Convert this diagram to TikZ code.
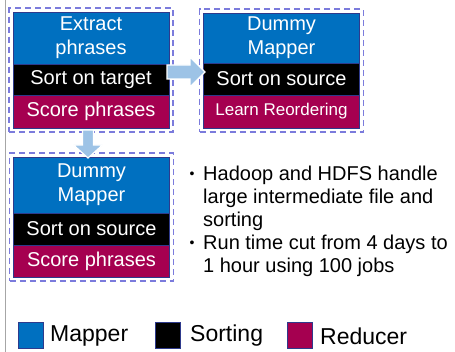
\documentclass[tikz,border=0pt]{standalone}
\usepackage{fontspec}
\setmainfont{Liberation Sans}
\usetikzlibrary{fit}
\definecolor{mapblue}{HTML}{0070C0}
\definecolor{redcol}{HTML}{A50050}
\definecolor{edgenavy}{HTML}{2E3A8C}
\definecolor{dashcol}{HTML}{7B7BDC}
\definecolor{arrowblue}{HTML}{9DC3E6}
\begin{document}
\begin{tikzpicture}[x=1pt,y=-1pt,
  cell/.style={draw=edgenavy,line width=0.8pt,minimum width=156pt,inner sep=0pt,
    text=white,align=center,font=\fontsize{20}{24}\selectfont},
  mapcell/.style={cell,fill=mapblue},
  sortcell/.style={cell,fill=black},
  redcell/.style={cell,fill=redcol},
  group/.style={draw=dashcol,line width=1.4pt,dash pattern=on 6pt off 4pt,inner sep=3.5pt},
  blockarrow/.style={fill=arrowblue,draw=white,line width=1.2pt,line join=miter},
  bullettext/.style={anchor=base west,inner sep=0pt,font=\fontsize{20}{24}\selectfont},
  legbox/.style={draw=edgenavy,line width=1pt,minimum width=25pt,minimum height=26pt,inner sep=0pt},
  legtext/.style={anchor=west,inner sep=0pt,font=\fontsize{23}{27}\selectfont}
]
\useasboundingbox (0,0) rectangle (455,352);
\draw[gray!70,line width=1.5pt] (5.5,0) coordinate (ltop) -- (5.5,352) coordinate (lbot);

% group 1
\node[mapcell,minimum height=52pt] (m1) at (91,38) {Extract\\phrases};
\node[sortcell,minimum height=31pt] (s1) at (91,79.5) {Sort on target};
\node[redcell,minimum height=33pt] (r1) at (91,111.5) {Score phrases};
\node[group,fit=(m1)(r1)] (g1) {};

% group 2
\node[mapcell,minimum height=50pt] (m2) at (281.5,38) {Dummy\\Mapper};
\node[sortcell,minimum height=32pt] (s2) at (281.5,79) {Sort on source};
\node[redcell,minimum height=33pt,font=\fontsize{17}{20}\selectfont] (r2) at (281.5,111.5) {Learn Reordering};
\node[group,fit=(m2)(r2)] (g2) {};

% group 3
\node[mapcell,minimum height=56pt] (m3) at (91.5,185) {Dummy\\Mapper};
\node[sortcell,minimum height=32pt] (s3) at (91.5,229) {Sort on source};
\node[redcell,minimum height=32pt] (r3) at (91.5,261) {Score phrases};
\node[group,fit=(m3)(r3)] (g3) {};

% block arrows
\coordinate (a1) at (167,72);
\draw[blockarrow] (a1) ++(0,-7) -- ++(23,0) -- ++(0,-8) -- ++(15,15) -- ++(-15,15) -- ++(0,-8) -- ++(-23,0) -- cycle;
\coordinate (a2) at (88,130);
\draw[blockarrow] (a2) ++(-5.5,0) -- ++(0,15) -- ++(-9,0) -- ++(14.5,13) -- ++(14.5,-13) -- ++(-9,0) -- ++(0,-15) -- cycle;

% notes
\node[anchor=base,inner sep=0pt,font=\fontsize{14}{16}\selectfont] (b1) at (192,179) {•};
\node[bullettext] (t1) at (203,181) {Hadoop and HDFS handle};
\node[bullettext] (t2) at (203,204) {large intermediate file and};
\node[bullettext] (t3) at (203,227) {sorting};
\node[anchor=base,inner sep=0pt,font=\fontsize{14}{16}\selectfont] (b2) at (192,248) {•};
\node[bullettext] (t4) at (203,250) {Run time cut from 4 days to};
\node[bullettext] (t5) at (203,273) {1 hour using 100 jobs};

% legend
\node[legbox,fill=mapblue] (k1) at (30.5,336) {};
\node[legtext] (l1) at (50,336) {Mapper};
\node[legbox,fill=black] (k2) at (168,336) {};
\node[legtext] (l2) at (190,336) {Sorting};
\node[legbox,fill=redcol] (k3) at (299.5,336) {};
\node[legtext] (l3) at (320,336) {Reducer};
\end{tikzpicture}
\end{document}
